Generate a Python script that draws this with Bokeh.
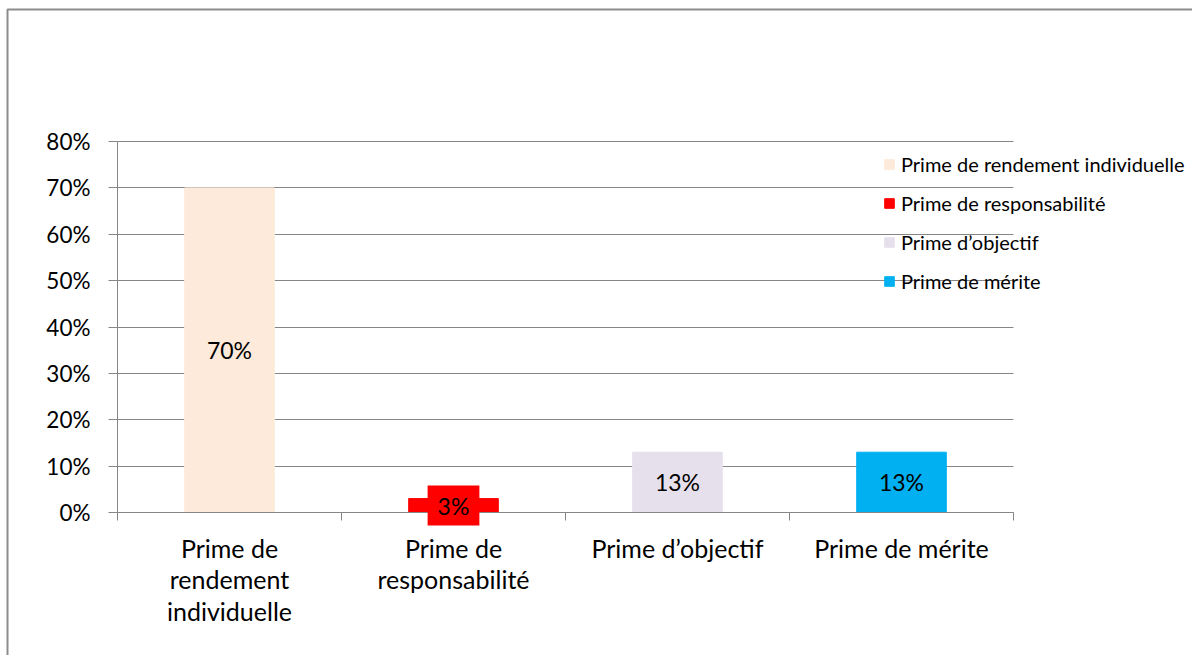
from bokeh.plotting import figure
from bokeh.models import (ColumnDataSource, Range1d, FixedTicker, LinearAxis, NumeralTickFormatter,
                          Legend, LegendItem, Label, BoxAnnotation, Grid)
from bokeh.embed import file_html
from bokeh.resources import INLINE

categories = ["Prime de rendement individuelle", "Prime de responsabilité", "Prime d’objectif", "Prime de mérite"]
wrapped = ["Prime de\nrendement\nindividuelle", "Prime de\nresponsabilité", "Prime d’objectif", "Prime de mérite"]
values = [0.70, 0.03, 0.13, 0.13]
labels = ["70%", "3%", "13%", "13%"]
colors = ["#FDEADA", "#FF0000", "#E6E0EC", "#00B0F0"]
y_ticks = [0.0, 0.1, 0.2, 0.3, 0.4, 0.5, 0.6, 0.7, 0.8]

FONT = "Lato"
GRAY = "#868686"
W, H = 1192, 655
# layout of the plotting area on the canvas (pixels)
PX_LEFT, PX_RIGHT, PX_TOP, PX_BOTTOM = 117, 1013, 141, 512
n = len(categories)
y_max = y_ticks[-1]
ppx = (PX_RIGHT - PX_LEFT) / n
ppy = (PX_BOTTOM - PX_TOP) / y_max

x_range = Range1d(-PX_LEFT / ppx, (W - PX_LEFT) / ppx)
y_range = Range1d(-(H - PX_BOTTOM) / ppy, y_max + PX_TOP / ppy)

xs = [i + 0.5 for i in range(n)]
src = ColumnDataSource(dict(x=xs, top=values, color=colors, name=categories))

p = figure(width=W, height=H, output_backend="svg", toolbar_location=None,
           x_range=x_range, y_range=y_range,
           x_axis_location=None, y_axis_location=None,
           min_border=0)
p.outline_line_color = None
p.background_fill_color = "white"
p.border_fill_color = "white"
p.grid.visible = False

# horizontal grid lines limited to the plotting area
g = Grid(dimension=1, ticker=FixedTicker(ticks=y_ticks), bounds=(0, y_max), cross_bounds=(0, n),
         grid_line_color=GRAY, grid_line_width=1)
p.add_layout(g, "center")

r = p.vbar(x="x", top="top", width=0.4, bottom=0, color="color", source=src)

# y axis
ya = LinearAxis(ticker=FixedTicker(ticks=y_ticks), formatter=NumeralTickFormatter(format="0%"),
                fixed_location=0, bounds=(0, y_max))
ya.axis_line_color = GRAY
ya.major_tick_line_color = GRAY
ya.major_tick_out = 9
ya.major_tick_in = 0
ya.minor_tick_line_color = None
ya.major_label_text_font = FONT
ya.major_label_text_font_size = "22.5px"
ya.major_label_text_color = "black"
ya.major_label_standoff = 18
p.add_layout(ya, "left")

# x tick axis (category boundaries)
xt = LinearAxis(ticker=FixedTicker(ticks=list(range(n + 1))), fixed_location=0, bounds=(0, n))
xt.axis_line_color = GRAY
xt.major_tick_line_color = GRAY
xt.major_tick_out = 8
xt.major_tick_in = 0
xt.minor_tick_line_color = None
xt.major_label_text_font_size = "0px"
p.add_layout(xt, "below")

# x category labels
xl = LinearAxis(ticker=FixedTicker(ticks=xs), fixed_location=0,
                major_label_overrides={x: w for x, w in zip(xs, wrapped)})
xl.axis_line_color = None
xl.major_tick_line_color = None
xl.major_tick_out = 0
xl.minor_tick_line_color = None
xl.major_label_text_font = FONT
xl.major_label_text_font_size = "25px"
xl.major_label_text_color = "black"
xl.major_label_text_line_height = 1.05
xl.major_label_standoff = 20
p.add_layout(xl, "below")

# data labels
for x, v, lbl, c in zip(xs, values, labels, colors):
    p.add_layout(Label(x=x, y=v / 2, text=lbl, text_align="center", text_baseline="middle",
                       text_font=FONT, text_font_size="23px", text_color="black",
                       background_fill_color=c, padding=dict(left=10, right=10, top=6, bottom=6)))

# legend
legend = Legend(items=[LegendItem(label=nm, renderers=[r], index=i) for i, nm in enumerate(categories)],
                location=(883, 362), orientation="vertical",
                label_text_font=FONT, label_text_font_size="20px", label_text_color="black",
                glyph_width=12, glyph_height=12, label_height=24, spacing=15,
                label_standoff=6, padding=0, margin=0,
                background_fill_alpha=0, border_line_color=None)
p.add_layout(legend, "center")

# outer frame border
p.add_layout(BoxAnnotation(left=7, top=9, right=1400, bottom=900,
                           left_units="canvas", right_units="canvas", top_units="canvas", bottom_units="canvas",
                           fill_alpha=0, line_color="#8C8C8C", line_alpha=1.0, line_width=2))

open("out.html", "w").write(file_html(p, INLINE))
